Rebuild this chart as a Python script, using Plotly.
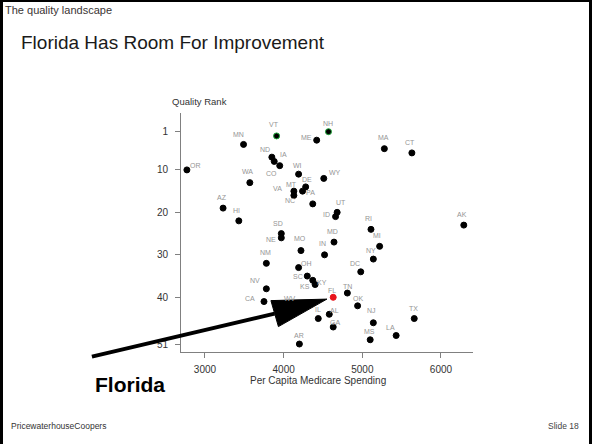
import plotly.graph_objects as go

W, H = 592, 444

# --- data: state, per-capita Medicare spending ($), quality rank ---
states = ["OR", "MN", "VT", "NH", "ME", "ND", "IA", "CO", "WI", "WY",
          "DE", "MT", "VA", "NC", "PA", "UT", "ID", "AZ", "HI", "WA",
          "SD", "NE", "MO", "MD", "IN", "NM", "OH", "SC", "KY", "KS",
          "NV", "CA", "WV", "FL", "TN", "OK", "IL", "AL", "GA", "AR",
          "MS", "LA", "NJ", "TX", "NY", "DC", "MI", "RI", "AK", "MA", "CT"]
spending = [2770, 3490, 3910, 4570, 4420, 3850, 3880, 3950, 4190, 4510,
            4280, 4240, 4130, 4130, 4370, 4680, 4660, 3230, 3430, 3570,
            3970, 3970, 4220, 4640, 4520, 3780, 4190, 4300, 4370, 4400,
            3780, 3750, 4200, 4630, 4810, 4940, 4440, 4580, 4630, 4200,
            5100, 5430, 5140, 5660, 5140, 4980, 5220, 5110, 6290, 5280, 5630]
rank = [10, 4, 2, 1, 3, 7, 8, 9, 11, 12,
        14, 15, 15, 16, 18, 20, 21, 19, 22, 13,
        25, 26, 29, 27, 30, 32, 33, 35, 36, 37,
        38, 41, 42, 40, 39, 42, 45, 44, 47, 51,
        50, 49, 46, 45, 31, 34, 28, 24, 23, 5, 6]

x_ticks = [3000, 4000, 5000, 6000]
y_ticks = [1, 10, 20, 30, 40, 51]

# --- label placement (pixel offset of each state label from its dot; +y = down) ---
LABEL_OFFSET = {
    "OR": (9, -4), "MN": (-5, -10), "VT": (-3, -11), "NH": (0, -8), "ME": (-10, -3),
    "ND": (-7, -8), "IA": (9, -7), "CO": (-8, 8), "WI": (-1, -9), "WY": (11, -6),
    "DE": (1, -7), "MT": (-11, -7), "VA": (-16, -3), "NC": (-4, 5), "PA": (-2, -11),
    "UT": (4, -10), "ID": (-9, -2), "AZ": (-1, -11), "HI": (-2, -10), "WA": (-2, -11),
    "SD": (-3, -10), "NE": (-10, 2), "MO": (-1, -12), "MD": (-2, -11), "IN": (-2, -11),
    "NM": (-1, -11), "OH": (8, -4), "SC": (-9, 0), "KY": (9, 2), "KS": (-10, 2),
    "NV": (-11, -8), "CA": (-14, -3), "WV": (-9, -7), "FL": (-1, -7), "TN": (0, -7),
    "OK": (0, -7), "IL": (0, -9), "AL": (5, -4), "GA": (2, -5), "AR": (0, -9),
    "MS": (-1, -8), "LA": (-6, -8), "NJ": (-2, -12), "TX": (-1, -10), "NY": (-2, -9),
    "DC": (-6, -8), "MI": (-3, -11), "RI": (-2, -11), "AK": (-2, -11), "MA": (-1, -11),
    "CT": (-2, -10),
}

FONT = "Liberation Sans, Arial, Helvetica, sans-serif"

# plot area in paper fractions and axis ranges
X_DOMAIN = (181 / W, 473 / W)
Y_DOMAIN = (1 - 352 / H, 1 - 113 / H)
X_RANGE = (2695, 6407)
Y_RANGE = (52.88, -3.40)   # reversed: best rank on top


def to_paper(xv, yv):
    fx = X_DOMAIN[0] + (xv - X_RANGE[0]) / (X_RANGE[1] - X_RANGE[0]) * (X_DOMAIN[1] - X_DOMAIN[0])
    fy = Y_DOMAIN[0] + (yv - Y_RANGE[0]) / (Y_RANGE[1] - Y_RANGE[0]) * (Y_DOMAIN[1] - Y_DOMAIN[0])
    return fx, fy


def px(dx, dy):
    return dx / W, -dy / H


highlight_fill = {"FL": "#e8141b"}
highlight_line = {"VT": "#1fa83a", "NH": "#1fa83a"}
fills = [highlight_fill.get(s, "#000000") for s in states]
lines = [highlight_line.get(s, fills[i]) for i, s in enumerate(states)]

fig = go.Figure()
fig.add_trace(go.Scatter(
    x=spending, y=rank, mode="markers", text=states, hoverinfo="text+x+y",
    marker=dict(size=6, color=fills, line=dict(color=lines, width=1)),
    showlegend=False, cliponaxis=False,
))

annotations = []
for s, xv, yv in zip(states, spending, rank):
    dx, dy = LABEL_OFFSET[s]
    annotations.append(dict(
        x=xv, y=yv, xref="x", yref="y", text=s, showarrow=False,
        xanchor="center", yanchor="middle", xshift=dx, yshift=-dy,
        font=dict(family=FONT, size=7, color="#959595"),
    ))

def paper_text(text, x, y, size, color, xanchor="left", bold=False):
    annotations.append(dict(
        x=x / W, y=1 - y / H, xref="paper", yref="paper",
        text=f"<b>{text}</b>" if bold else text, showarrow=False,
        xanchor=xanchor, yanchor="middle",
        font=dict(family=FONT, size=size, color=color),
    ))

paper_text("The quality landscape", 3, 10, 11, "#3a3434")
paper_text("Florida Has Room For Improvement", 19, 42, 19, "#1a1a1a")
paper_text("Quality Rank", 199, 101, 9.5, "#333333", xanchor="center")
paper_text("Per Capita Medicare Spending", 318, 380, 10, "#333333", xanchor="center")
paper_text("Florida", 93, 384, 21, "#000000", bold=True)
paper_text("PricewaterhouseCoopers", 9, 426, 8.5, "#333333")
paper_text("Slide 18", 581, 426, 8.5, "#444444", xanchor="right")

# arrow pointing at Florida's dot
fl = states.index("FL")
fx, fy = to_paper(spending[fl], rank[fl])

def at(dx, dy):
    ox, oy = px(dx, dy)
    return fx + ox, fy + oy

sx, sy = at(-241.3, 59.3)
ex, ey = at(-58.6, 16.3)
t1 = at(-62.3, 3.3)
t2 = at(-54.8, 29.3)
t3 = at(-6.3, 1.8)

shapes = [
    dict(type="line", xref="paper", yref="paper", x0=sx, y0=sy, x1=ex, y1=ey,
         line=dict(color="#000000", width=4)),
    dict(type="path", xref="paper", yref="paper",
         path=f"M{t1[0]},{t1[1]} L{t2[0]},{t2[1]} L{t3[0]},{t3[1]} Z",
         fillcolor="#000000", line=dict(color="#000000", width=1)),
    # slide frame
    dict(type="line", xref="paper", yref="paper", x0=1.5 / W, y0=0, x1=1.5 / W, y1=1,
         line=dict(color="#000000", width=3)),
    dict(type="line", xref="paper", yref="paper", x0=0, y0=1 - 1 / H, x1=1, y1=1 - 1 / H,
         line=dict(color="#000000", width=2)),
    dict(type="line", xref="paper", yref="paper", x0=1 - 1.5 / W, y0=0, x1=1 - 1.5 / W, y1=1,
         line=dict(color="#000000", width=3)),
]

axis_common = dict(
    showgrid=False, zeroline=False, showline=True, linecolor="#808080", linewidth=1,
    ticks="outside", ticklen=5, tickcolor="#808080", tickwidth=1,
    tickfont=dict(family=FONT, size=10, color="#333333"),
    fixedrange=True,
)

fig.update_layout(
    width=W, height=H, margin=dict(l=0, r=0, t=0, b=0),
    paper_bgcolor="#ffffff", plot_bgcolor="#ffffff",
    xaxis=dict(domain=list(X_DOMAIN), range=list(X_RANGE), tickmode="array",
               tickvals=x_ticks, ticklabelstandoff=3, **axis_common),
    yaxis=dict(domain=list(Y_DOMAIN), range=list(Y_RANGE), tickmode="array",
               tickvals=y_ticks, ticklabelstandoff=5, **axis_common),
    annotations=annotations,
    shapes=shapes,
    showlegend=False,
)

fig.write_html("out.html")
